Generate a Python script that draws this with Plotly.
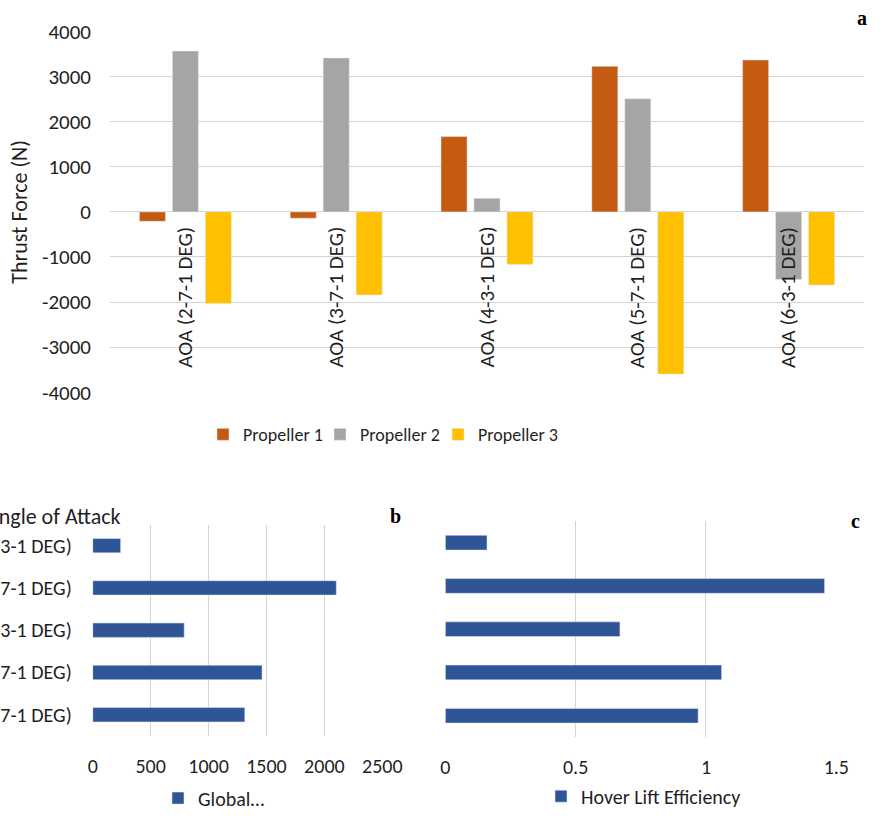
import plotly.graph_objects as go

W, H = 883, 818

# ---- data -------------------------------------------------------------
categories = ["AOA (2-7-1 DEG)", "AOA (3-7-1 DEG)", "AOA (4-3-1 DEG)",
              "AOA (5-7-1 DEG)", "AOA (6-3-1 DEG)"]
propeller_1 = [-210, -140, 1670, 3230, 3370]
propeller_2 = [3570, 3415, 300, 2510, -1500]
propeller_3 = [-2035, -1845, -1165, -3600, -1625]
global_values = [1313, 1462, 790, 2103, 241]
hover_lift_eff = [0.97, 1.06, 0.67, 1.455, 0.16]

thrust_ticks = [-4000, -3000, -2000, -1000, 0, 1000, 2000, 3000, 4000]
global_ticks = [0, 500, 1000, 1500, 2000, 2500]
eff_ticks = [0, 0.5, 1, 1.5]

# ---- styling ----------------------------------------------------------
FONT = "Carlito, Calibri, Lato, sans-serif"
TXT = "#1f1f1f"
GRID = "#d4d4d4"
C1, C2, C3 = "#C55A11", "#A5A5A5", "#FFC000"
BLUE = "#2F5597"


def px_x(p):
    return p / W


def px_y(p):
    return 1 - p / H


fig = go.Figure()

# Panel a: grouped thrust bars, one legend box per propeller
series_a = [("Propeller 1", propeller_1, C1, "legend"),
            ("Propeller 2", propeller_2, C2, "legend2"),
            ("Propeller 3", propeller_3, C3, "legend3")]
for name, vals, col, leg in series_a:
    fig.add_trace(go.Bar(x=categories, y=vals, name=name, marker_color=col,
                         xaxis="x", yaxis="y", legend=leg))

# Panel b: global values
fig.add_trace(go.Bar(x=global_values, y=categories, orientation="h",
                     name="Global…", marker_color=BLUE, width=0.34,
                     xaxis="x2", yaxis="y2", legend="legend4"))

# Panel c: hover lift efficiency
fig.add_trace(go.Bar(x=hover_lift_eff, y=categories, orientation="h",
                     name="Hover Lift Efficiency", marker_color=BLUE, width=0.34,
                     xaxis="x3", yaxis="y3", legend="legend5"))

annotations = []
# category labels sitting along the zero line of panel a
for c in categories:
    annotations.append(dict(x=c, y=0, xref="x", yref="y", text=c,
                            textangle=-90, showarrow=False, yanchor="top",
                            xanchor="center", yshift=-13,
                            font=dict(family=FONT, size=21, color=TXT)))
# panel letters
for letter, xp, yp in [("a", 862, 18), ("b", 395, 522), ("c", 855, 527)]:
    annotations.append(dict(x=px_x(xp), y=px_y(yp), xref="paper", yref="paper",
                            text="<b>%s</b>" % letter, showarrow=False,
                            xanchor="center", yanchor="middle",
                            font=dict(family="Liberation Serif", size=20,
                                      color="#000")))
# category-axis title of panel b
annotations.append(dict(x=px_x(123), y=px_y(523), xref="paper", yref="paper",
                        text="Angle of Attack", showarrow=False,
                        xanchor="right", yanchor="middle",
                        font=dict(family=FONT, size=22, color=TXT)))


def legend_box(x_px, y_px, size):
    return dict(orientation="h", x=px_x(x_px), y=px_y(y_px), xanchor="left",
                yanchor="middle", font=dict(family=FONT, size=size, color=TXT),
                bgcolor="rgba(0,0,0,0)")


fig.update_layout(
    width=W, height=H, autosize=False, showlegend=True,
    margin=dict(l=0, r=0, t=0, b=0),
    paper_bgcolor="white", plot_bgcolor="white",
    barmode="group", bargap=0.344, bargroupgap=0.21,
    font=dict(family=FONT, color=TXT),
    annotations=annotations,
    xaxis=dict(domain=[px_x(110), px_x(864)], showticklabels=False,
               showgrid=False, zeroline=False, showline=False, ticks=""),
    yaxis=dict(domain=[px_y(397), px_y(32)], range=[-4000, 4000],
               tickvals=thrust_ticks, ticktext=[str(v) for v in thrust_ticks],
               showgrid=True, gridcolor=GRID, gridwidth=1.3,
               zeroline=True, zerolinecolor=GRID, zerolinewidth=1.3,
               tickfont=dict(family=FONT, size=21, color=TXT), ticks="",
               ticklabelstandoff=18, automargin=False,
               title=dict(text="Thrust Force (N)", standoff=8,
                          font=dict(family=FONT, size=22, color=TXT))),
    xaxis2=dict(domain=[px_x(92.7), px_x(382.3)], range=[0, 2500],
                tickvals=global_ticks, showgrid=True, gridcolor=GRID,
                gridwidth=1.3, zeroline=False,
                tickfont=dict(family=FONT, size=20, color=TXT),
                ticks="", ticklabelstandoff=16, automargin=False,
                anchor="y2"),
    yaxis2=dict(domain=[px_y(745), px_y(531)], showgrid=False,
                zeroline=False, tickfont=dict(family=FONT, size=20, color=TXT),
                ticks="", ticklabelstandoff=20, automargin=False,
                anchor="x2"),
    xaxis3=dict(domain=[px_x(445.3), px_x(836.3)], range=[0, 1.5],
                tickvals=eff_ticks, ticktext=["0", "0.5", "1", "1.5"],
                showgrid=True, gridcolor=GRID, gridwidth=1.3,
                zeroline=False, tickfont=dict(family=FONT, size=20, color=TXT),
                ticks="", ticklabelstandoff=16, automargin=False,
                anchor="y3"),
    yaxis3=dict(domain=[px_y(746.5), px_y(527.5)], showgrid=False,
                zeroline=False, showticklabels=False, ticks="",
                automargin=False, anchor="x3"),
    legend=legend_box(203, 440, 18),
    legend2=legend_box(320, 440, 18),
    legend3=legend_box(438, 440, 18),
    legend4=legend_box(158, 808, 20),
    legend5=legend_box(541, 806, 20),
)

fig.write_html("out.html", config={"responsive": False})
